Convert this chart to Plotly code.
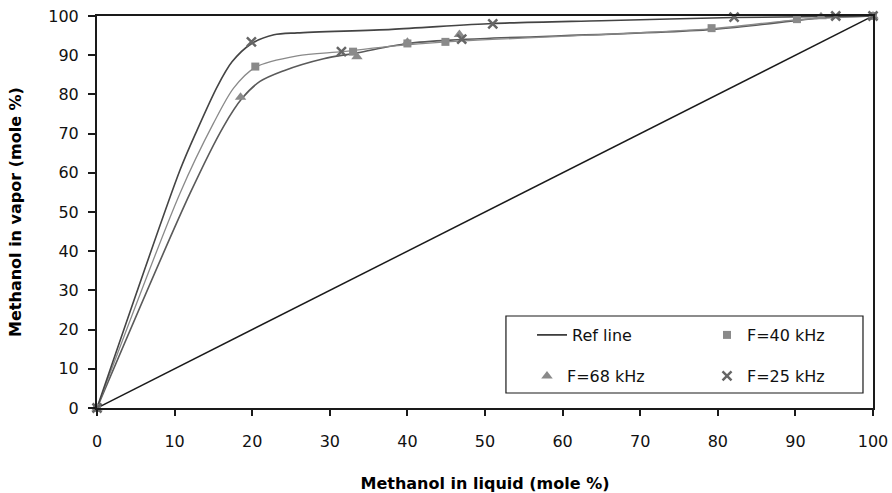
import plotly.graph_objects as go

# ---- data ----
ref_x = [0, 100]
ref_y = [0, 100]

curve25_x = [0, 10.7, 12.9, 15.5, 17.4, 19.8, 22.8, 25.8, 38.0, 51.0, 65.0, 82.0, 100]
curve25_y = [0, 60.7, 70.9, 82.0, 88.3, 92.8, 95.2, 95.7, 96.6, 98.1, 98.8, 99.6, 100]

curve40_x = [0, 10.7, 15.0, 17.6, 20.4, 25.8, 31.6, 38.0, 45.0, 79.4, 90.4, 100]
curve40_y = [0, 54.8, 72.6, 81.6, 86.9, 89.8, 90.9, 92.3, 93.4, 96.8, 99.1, 100]

curve68_x = [0, 12.0, 16.3, 18.7, 21.0, 24.0, 29.2, 33.5, 40.0, 47.0, 79.4, 93.5, 100]
curve68_y = [0, 54.8, 71.8, 79.0, 83.3, 86.0, 89.1, 90.6, 93.0, 94.0, 96.6, 99.5, 100]

f40_x = [0, 20.4, 33.0, 40.0, 44.9, 79.2, 90.2, 100]
f40_y = [0, 87.1, 90.9, 93.0, 93.4, 96.9, 99.2, 100]

f68_x = [0, 18.5, 33.5, 40.0, 46.7, 93.3, 100]
f68_y = [0, 79.3, 89.6, 93.3, 95.3, 99.8, 100]

f25_x = [0, 19.9, 31.5, 47.0, 51.0, 82.1, 95.2, 100]
f25_y = [0, 93.4, 90.9, 94.1, 98.0, 99.7, 100, 100]

x_ticks = list(range(0, 101, 10))
y_ticks = list(range(0, 101, 10))

FONT = "DejaVu Sans"

fig = go.Figure()

# smoothed curves (no legend)
fig.add_trace(go.Scatter(x=curve68_x, y=curve68_y, mode="lines", showlegend=False,
                         line=dict(color="#5a5a5a", width=1.6, shape="spline", smoothing=0.9),
                         hoverinfo="skip", cliponaxis=False))
fig.add_trace(go.Scatter(x=curve40_x, y=curve40_y, mode="lines", showlegend=False,
                         line=dict(color="#8a8a8a", width=1.3, shape="spline", smoothing=0.8),
                         hoverinfo="skip", cliponaxis=False))
fig.add_trace(go.Scatter(x=curve25_x, y=curve25_y, mode="lines", showlegend=False,
                         line=dict(color="#444444", width=1.6, shape="spline", smoothing=0.8),
                         hoverinfo="skip", cliponaxis=False))

# reference line
fig.add_trace(go.Scatter(x=ref_x, y=ref_y, mode="lines", name="Ref line",
                         line=dict(color="#1a1a1a", width=1.5), legend="legend",
                         cliponaxis=False))

# markers
fig.add_trace(go.Scatter(x=f40_x, y=f40_y, mode="markers", name="F=40 kHz",
                         marker=dict(symbol="square", size=8, color="#8a8a8a"),
                         legend="legend2", cliponaxis=False))
fig.add_trace(go.Scatter(x=f68_x, y=f68_y, mode="markers", name="F=68 kHz",
                         marker=dict(symbol="triangle-up", size=10, color="#8a8a8a"),
                         legend="legend3", cliponaxis=False))
fig.add_trace(go.Scatter(x=f25_x, y=f25_y, mode="markers", name="F=25 kHz",
                         marker=dict(symbol="x-thin-open", size=9, color="#666666",
                                     line=dict(color="#666666", width=2.5)),
                         legend="legend4", cliponaxis=False))

leg_common = dict(orientation="v", xanchor="left", yanchor="middle",
                  bgcolor="rgba(0,0,0,0)", borderwidth=0,
                  font=dict(family=FONT, size=16, color="#111111"))

fig.update_layout(
    width=892, height=493,
    margin=dict(l=97, r=19, t=16, b=85),
    paper_bgcolor="white", plot_bgcolor="white",
    font=dict(family=FONT, size=16, color="#111111"),
    legend=dict(x=0.5606, y=0.1862, **leg_common),
    legend2=dict(x=0.7861, y=0.1862, **leg_common),
    legend3=dict(x=0.5541, y=0.0816, **leg_common),
    legend4=dict(x=0.7861, y=0.0816, **leg_common),
    xaxis=dict(range=[0, 100], tickvals=x_ticks, ticks="outside", ticklen=6,
               tickwidth=2, tickcolor="#1a1a1a", showline=True, linewidth=2,
               linecolor="#1a1a1a", mirror=True, showgrid=False, zeroline=False,
               ticklabelstandoff=12, automargin=False,
               tickfont=dict(family=FONT, size=16, color="#111111"),
               title=dict(text="<b>Methanol in liquid (mole %)</b>",
                          font=dict(family=FONT, size=16, color="#000000"), standoff=28)),
    yaxis=dict(range=[0, 100], tickvals=y_ticks, ticks="outside", ticklen=7,
               tickwidth=2, tickcolor="#1a1a1a", showline=True, linewidth=2,
               linecolor="#1a1a1a", mirror=True, showgrid=False, zeroline=False,
               ticklabelstandoff=6, automargin=False,
               tickfont=dict(family=FONT, size=16, color="#111111"),
               title=dict(text="<b>Methanol in vapor (mole %)</b>",
                          font=dict(family=FONT, size=16, color="#000000"), standoff=23)),
    shapes=[dict(type="rect", xref="paper", yref="paper",
                 x0=0.527, x1=0.9871, y0=0.0383, y1=0.2347,
                 line=dict(color="#1a1a1a", width=1.2), fillcolor="rgba(0,0,0,0)",
                 layer="above")],
)

fig.write_html("out.html",
               config={"displayModeBar": False},
               post_script="document.body.style.margin='0';document.body.style.padding='0';")
